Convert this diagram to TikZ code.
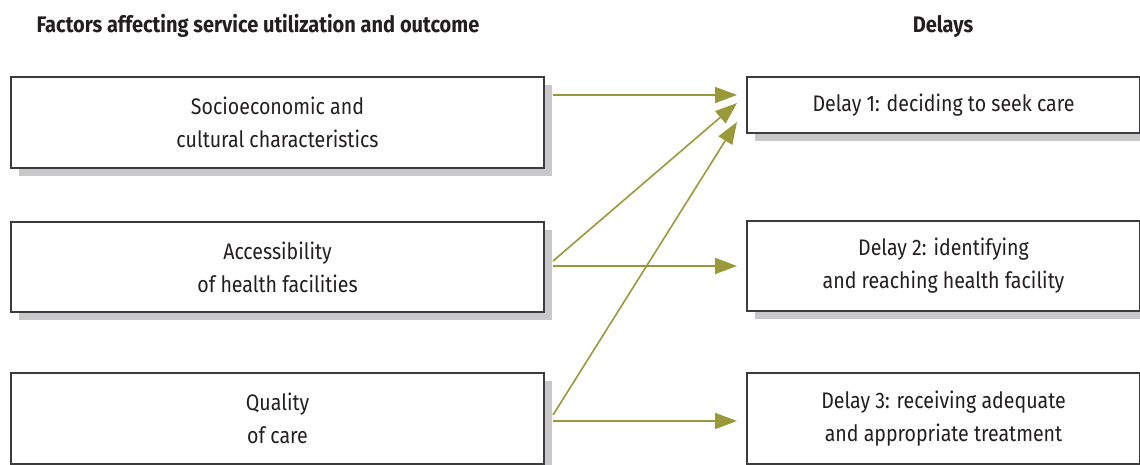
\documentclass[tikz,border=0pt]{standalone}
\usepackage{fontspec}
\setmainfont{Fira Sans}[FakeStretch=0.87]
\newfontfamily\headfont{Fira Sans}[FakeStretch=0.89]
\usetikzlibrary{arrows.meta,shadows,calc}
\definecolor{arrowcol}{RGB}{154,153,58}
\definecolor{boxline}{RGB}{60,60,60}
\definecolor{shadowgray}{RGB}{200,200,202}
\definecolor{txt}{RGB}{35,31,32}
\begin{document}
\begin{tikzpicture}[x=1pt,y=-1pt,
  box/.style={draw=boxline, line width=2pt, fill=white, inner sep=0pt,
    anchor=north west, align=center, text=txt,
    font=\fontsize{22.5}{33}\selectfont,
    drop shadow={shadow xshift=8pt, shadow yshift=-8pt, fill=shadowgray, opacity=1}},
  head/.style={font=\headfont\fontsize{22.5}{26}\selectfont\bfseries, text=txt},
  conn/.style={draw=arrowcol, line width=1.6pt, -{Triangle[length=22pt,width=16pt]}}]
\useasboundingbox (0,0) rectangle (1140,465);
\node[head] (h1) at (258,26) {Factors affecting service utilization and outcome};
\node[head] (h2) at (943,26) {Delays};
\node[box, minimum width=533pt, minimum height=91pt] (l1) at (10,76) {Socioeconomic and\\cultural characteristics};
\node[box, minimum width=533pt, minimum height=90pt] (l2) at (10,221) {Accessibility\\of health facilities};
\node[box, minimum width=533pt, minimum height=91pt] (l3) at (10,372) {Quality\\of care};
\node[box, minimum width=393pt, minimum height=56pt] (r1) at (746,76) {Delay 1: deciding to seek care};
\node[box, minimum width=393pt, minimum height=90pt] (r2) at (746,220) {Delay 2: identifying\\and reaching health facility};
\node[box, minimum width=393pt, minimum height=91pt] (r3) at (746,372) {Delay 3: receiving adequate\\and appropriate treatment};
\coordinate (s1) at ($(l1.north east)+(8,19)$);
\coordinate (e1) at ($(r1.north west)+(-9,19)$);
\coordinate (s2) at ($(l2.north east)+(8,40)$);
\coordinate (e2) at ($(r1.north west)+(-9,27)$);
\coordinate (s3) at ($(l3.north east)+(8,43)$);
\coordinate (e3) at ($(r1.north west)+(-9,46)$);
\coordinate (s4) at ($(l2.north east)+(8,45)$);
\coordinate (e4) at ($(r2.north west)+(-9,46)$);
\coordinate (s5) at ($(l3.north east)+(8,49)$);
\coordinate (e5) at ($(r3.north west)+(-9,49)$);
\draw[conn] (s1) -- (e1);
\draw[conn] (s2) -- (e2);
\draw[conn] (s3) -- (e3);
\draw[conn] (s4) -- (e4);
\draw[conn] (s5) -- (e5);
\end{tikzpicture}
\end{document}
